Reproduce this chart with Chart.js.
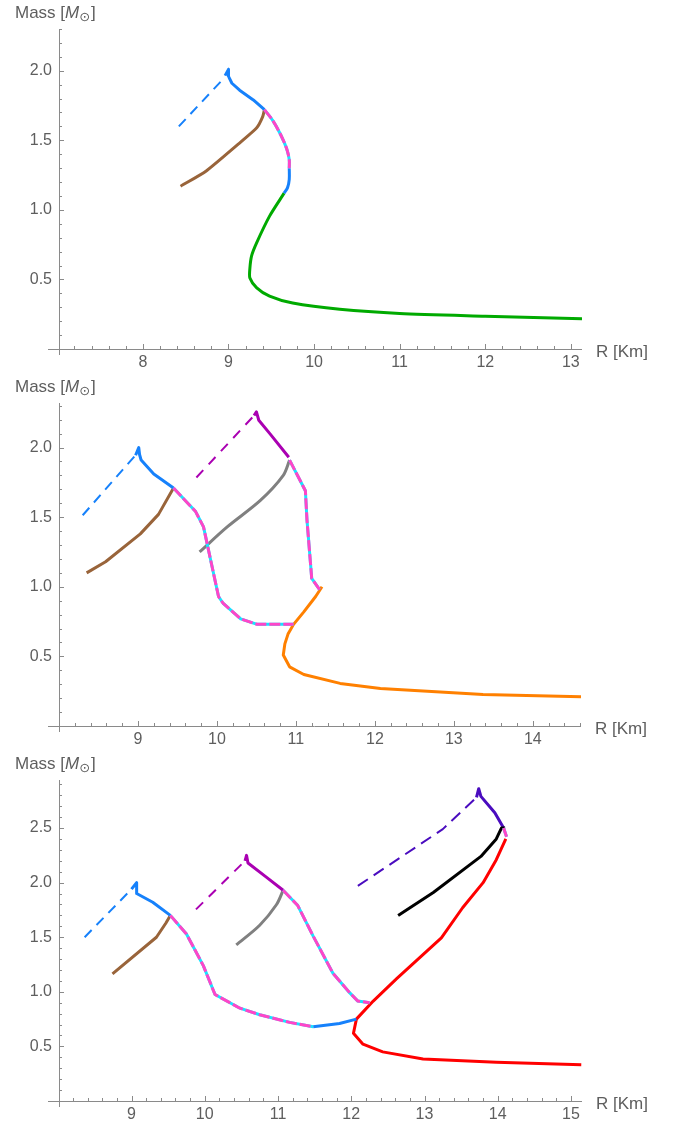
<!DOCTYPE html>
<html>
<head>
<meta charset="utf-8">
<title>Mass - Radius</title>
<script src="https://cdn.jsdelivr.net/npm/chart.js@4/dist/chart.umd.min.js"></script>
<style>
    html, body { margin: 0; padding: 0; background: #fff; }
    body { width: 679px; height: 1123px; position: relative; overflow: hidden; }
    .panel { position: absolute; left: 0; width: 679px; }
</style>
</head>
<body>
<div class="panel" style="top:0;height:372px"><canvas id="panel1"></canvas></div>
<div class="panel" style="top:372px;height:376px"><canvas id="panel2"></canvas></div>
<div class="panel" style="top:748px;height:375px"><canvas id="panel3"></canvas></div>

<script>
// Curvas massa-raio, pares [R (km), M (M_sol)]

// --- painel 1 ---
const p1BlueDash = [[8.42, 1.60], [8.96, 1.955]];
const p1BlueTop = [[8.96, 1.965], [9.0, 2.01], [9.0, 1.96], [9.04, 1.91], [9.13, 1.86], [9.29, 1.79], [9.42, 1.72]];
const p1Pink = [[9.42, 1.72], [9.52, 1.64], [9.61, 1.54], [9.68, 1.44], [9.71, 1.36], [9.71, 1.30]];
const p1BlueMid = [[9.71, 1.30], [9.71, 1.22], [9.69, 1.16], [9.65, 1.12]];
const p1Green = [[9.65, 1.12], [9.48, 0.955], [9.33, 0.765], [9.27, 0.67], [9.25, 0.58], [9.25, 0.51], [9.33, 0.44],
    [9.48, 0.38], [9.75, 0.33], [10.3, 0.285], [11.0, 0.255], [12.0, 0.236], [13.13, 0.217]];
const p1Brown = [[8.44, 1.17], [8.74, 1.28], [9.09, 1.46], [9.33, 1.59], [9.40, 1.67], [9.42, 1.72]];
const p1XTicks = [8, 9, 10, 11, 12, 13];
const p1YTicks = [0.5, 1.0, 1.5, 2.0];

// --- painel 2 ---
const p2BlueDash = [[8.30, 1.514], [8.97, 1.945]];
const p2BlueTop = [[8.97, 1.945], [9.01, 2.0], [9.02, 1.95], [9.04, 1.91], [9.2, 1.81], [9.45, 1.71]];
const p2Brown = [[8.35, 1.10], [8.59, 1.18], [9.03, 1.38], [9.26, 1.52], [9.45, 1.71]];
const p2Pink1 = [[9.45, 1.71], [9.73, 1.54], [9.83, 1.43], [9.94, 1.14], [10.02, 0.93], [10.08, 0.88],
    [10.30, 0.77], [10.51, 0.73], [10.97, 0.73]];
const p2Pink2 = [[10.92, 1.91], [11.12, 1.69], [11.14, 1.48], [11.20, 1.06], [11.30, 0.98]];
const p2Orange = [[11.33, 1.0], [11.25, 0.93], [11.1, 0.82], [10.97, 0.73], [10.9, 0.66], [10.86, 0.59],
    [10.84, 0.51], [10.92, 0.425], [11.10, 0.37], [11.56, 0.306], [12.07, 0.27], [13.37, 0.227], [14.61, 0.21]];
const p2Purple = [[10.47, 2.23], [10.50, 2.256], [10.53, 2.196], [10.67, 2.10], [10.91, 1.93]];
const p2PurpleDash = [[9.74, 1.785], [10.47, 2.23]];
const p2Gray = [[9.78, 1.25], [10.13, 1.43], [10.55, 1.62], [10.84, 1.80], [10.92, 1.91]];
const p2XTicks = [9, 10, 11, 12, 13, 14];
const p2YTicks = [0.5, 1.0, 1.5, 2.0];

// --- painel 3 ---
const p3BlueDash = [[8.36, 1.50], [9.0, 1.94]];
const p3BlueTop = [[9.0, 1.94], [9.07, 2.0], [9.07, 1.90], [9.29, 1.82], [9.53, 1.70]];
const p3Brown = [[8.74, 1.165], [9.34, 1.50], [9.47, 1.63], [9.53, 1.70]];
const p3Pink1 = [[9.53, 1.70], [9.75, 1.53], [9.98, 1.24], [10.14, 0.975], [10.48, 0.85], [10.75, 0.79],
    [11.16, 0.72], [11.48, 0.68]];
const p3BlueLow = [[11.48, 0.68], [11.84, 0.71], [12.07, 0.75]];
const p3Pink2 = [[11.07, 1.93], [11.27, 1.79], [11.48, 1.51], [11.75, 1.17], [11.98, 0.99], [12.09, 0.915], [12.25, 0.90]];
const p3Purple = [[10.55, 2.20], [10.57, 2.25], [10.59, 2.18], [10.84, 2.05], [11.07, 1.93]];
const p3PurpleDash = [[9.88, 1.755], [10.55, 2.20]];
const p3Gray = [[10.43, 1.43], [10.75, 1.61], [10.98, 1.80], [11.07, 1.93]];
const p3Red = [[14.11, 2.40], [13.98, 2.21], [13.80, 2.0], [13.52, 1.77], [13.23, 1.495], [12.62, 1.12],
    [12.30, 0.915], [12.07, 0.75], [12.03, 0.62], [12.16, 0.52], [12.43, 0.45], [12.98, 0.385], [13.98, 0.355], [15.14, 0.333]];
const p3PinkTop = [[14.08, 2.50], [14.12, 2.42]];
const p3Black = [[12.64, 1.70], [13.12, 1.91], [13.77, 2.24], [13.98, 2.40], [14.05, 2.50], [14.1, 2.50]];
const p3Indigo = [[13.71, 2.78], [13.74, 2.86], [13.77, 2.79], [13.96, 2.64], [14.08, 2.50]];
const p3IndigoDash = [[12.09, 1.97], [13.25, 2.49], [13.71, 2.78]];
const p3XTicks = [9, 10, 11, 12, 13, 14, 15];
const p3YTicks = [0.5, 1.0, 1.5, 2.0, 2.5];

// Cores
const BLUE = '#1681fb';
const PINK = '#ff45c8';
const CYAN = '#19e3ff';
const GREEN = '#00aa00';
const BROWN = '#99643a';
const PURPLE = '#aa00b2';
const GRAY = '#808080';
const ORANGE = '#ff8000';
const RED = '#ff0000';
const INDIGO = '#4a0cbf';
const BLACK = '#000000';

const FONT = '"Liberation Sans", Arial, Helvetica, sans-serif';
const TEXT_COLOR = '#5e5e5e';
const AXIS_COLOR = '#8a8a8a';

/**
 * Cria um dataset de linha a partir de pares [R, M]
 */
function line(points, color, options = {}) {
    return {
        data: points.map(([r, m]) => ({ x: r, y: m })),
        showLine: true,
        borderColor: color,
        backgroundColor: color,
        borderWidth: options.width || 3,
        borderDash: options.dash || [],
        pointRadius: 0,
        fill: false,
        tension: options.tension || 0,
        borderJoinStyle: 'round',
        order: options.order !== undefined ? options.order : 2
    };
}

// Linha rosa tracejada sobre ciano
function pinkCyan(points, tension = 0) {
    return [
        line(points, PINK, { dash: [11, 3], order: 0, tension }),
        line(points, CYAN, { order: 1, tension })
    ];
}

// Eixos ao estilo Mathematica (ticks para dentro) + títulos
const mathAxes = {
    id: 'mathAxes',
    afterDraw(chart) {
        const { ctx, chartArea: a } = chart;
        const x = chart.scales.x;
        const y = chart.scales.y;
        ctx.save();
        ctx.strokeStyle = AXIS_COLOR;
        ctx.lineWidth = 1;
        ctx.beginPath();
        ctx.moveTo(a.left - 11, a.bottom + 0.5);
        ctx.lineTo(a.right, a.bottom + 0.5);
        ctx.moveTo(a.left + 0.5, a.bottom + 6);
        ctx.lineTo(a.left + 0.5, a.top);

        // ticks menores a cada 0.2 em R
        for (let k = Math.ceil(x.min * 5); k <= Math.floor(x.max * 5); k++) {
            const px = Math.round(x.getPixelForValue(k / 5)) + 0.5;
            const len = k % 5 === 0 ? 5 : 3;
            ctx.moveTo(px, a.bottom);
            ctx.lineTo(px, a.bottom - len);
        }
        // ticks menores a cada 0.1 em M
        for (let k = 1; k <= Math.floor(y.max * 10); k++) {
            const py = Math.round(y.getPixelForValue(k / 10)) + 0.5;
            const len = k % 5 === 0 ? 5 : 3;
            ctx.moveTo(a.left, py);
            ctx.lineTo(a.left + len, py);
        }
        ctx.stroke();

        // Título do eixo y: Mass [M⊙]
        ctx.fillStyle = TEXT_COLOR;
        ctx.textBaseline = 'alphabetic';
        ctx.textAlign = 'left';
        let tx = 15;
        const ty = a.top - 11;
        ctx.font = '17px ' + FONT;
        ctx.fillText('Mass [', tx, ty);
        tx += ctx.measureText('Mass [').width;
        ctx.font = 'italic 17px ' + FONT;
        ctx.fillText('M', tx, ty);
        tx += ctx.measureText('M').width;
        ctx.font = '13px "DejaVu Sans", sans-serif';
        ctx.fillText('⊙', tx, ty + 3);
        tx += ctx.measureText('⊙').width + 1;
        ctx.font = '17px ' + FONT;
        ctx.fillText(']', tx, ty);

        // Título do eixo x
        ctx.fillText('R [Km]', a.right + 14, a.bottom + 8);
        ctx.restore();
    }
};

/**
 * Monta um painel com a área do gráfico em posição fixa
 */
function buildPanel(canvasId, cfg) {
    const canvas = document.getElementById(canvasId);
    const height = canvas.parentNode.clientHeight;

    return new Chart(canvas, {
        type: 'scatter',
        data: { datasets: cfg.datasets },
        options: {
            responsive: true,
            maintainAspectRatio: false,
            animation: false,
            layout: {
                padding: { top: cfg.top, right: 679 - cfg.right, left: 0, bottom: 0 }
            },
            plugins: {
                legend: { display: false },
                tooltip: { enabled: false }
            },
            scales: {
                x: {
                    type: 'linear',
                    min: cfg.xMin,
                    max: cfg.xMax,
                    grid: { display: false, drawTicks: false },
                    border: { display: false },
                    afterBuildTicks: scale => { scale.ticks = cfg.xTicks.map(v => ({ value: v })); },
                    afterFit: scale => { scale.height = height - cfg.bottom; },
                    ticks: {
                        color: TEXT_COLOR,
                        font: { size: 16, family: FONT },
                        padding: 4,
                        maxRotation: 0,
                        autoSkip: false,
                        callback: value => String(value)
                    }
                },
                y: {
                    type: 'linear',
                    min: 0,
                    max: cfg.yMax,
                    grid: { display: false, drawTicks: false },
                    border: { display: false },
                    afterBuildTicks: scale => { scale.ticks = cfg.yTicks.map(v => ({ value: v })); },
                    afterFit: scale => { scale.width = 59; },
                    ticks: {
                        color: TEXT_COLOR,
                        font: { size: 16, family: FONT },
                        padding: 7,
                        autoSkip: false,
                        callback: value => Number(value).toFixed(1)
                    }
                }
            }
        },
        plugins: [mathAxes]
    });
}

buildPanel('panel1', {
    top: 29, bottom: 349, right: 582,
    xMin: 7.02, xMax: 13.13, yMax: 2.3,
    xTicks: p1XTicks, yTicks: p1YTicks,
    datasets: [
        line(p1BlueDash, BLUE, { width: 2, dash: [10, 7] }),
        line(p1BlueTop, BLUE),
        ...pinkCyan(p1Pink, 0.3),
        line(p1BlueMid, BLUE, { tension: 0.3 }),
        line(p1Green, GREEN, { tension: 0.25 }),
        line(p1Brown, BROWN, { tension: 0.2 })
    ]
});

buildPanel('panel2', {
    top: 31, bottom: 354, right: 581,
    xMin: 8.0, xMax: 14.61, yMax: 2.32,
    xTicks: p2XTicks, yTicks: p2YTicks,
    datasets: [
        line(p2BlueDash, BLUE, { width: 2, dash: [10, 7] }),
        line(p2BlueTop, BLUE),
        line(p2Brown, BROWN),
        ...pinkCyan(p2Pink1),
        ...pinkCyan(p2Pink2),
        line(p2Orange, ORANGE),
        line(p2Purple, PURPLE),
        line(p2PurpleDash, PURPLE, { width: 2, dash: [10, 8] }),
        line(p2Gray, GRAY, { tension: 0.3 })
    ]
});

buildPanel('panel3', {
    top: 32, bottom: 353, right: 582,
    xMin: 8.01, xMax: 15.15, yMax: 2.94,
    xTicks: p3XTicks, yTicks: p3YTicks,
    datasets: [
        line(p3BlueDash, BLUE, { width: 2, dash: [10, 7] }),
        line(p3BlueTop, BLUE),
        line(p3Brown, BROWN),
        ...pinkCyan(p3Pink1),
        line(p3BlueLow, BLUE),
        ...pinkCyan(p3Pink2),
        line(p3Purple, PURPLE),
        line(p3PurpleDash, PURPLE, { width: 2, dash: [10, 8] }),
        line(p3Gray, GRAY, { tension: 0.3 }),
        line(p3Red, RED),
        ...pinkCyan(p3PinkTop),
        line(p3Black, BLACK),
        line(p3Indigo, INDIGO),
        line(p3IndigoDash, INDIGO, { width: 2, dash: [12, 7] })
    ]
});
</script>
</body>
</html>
